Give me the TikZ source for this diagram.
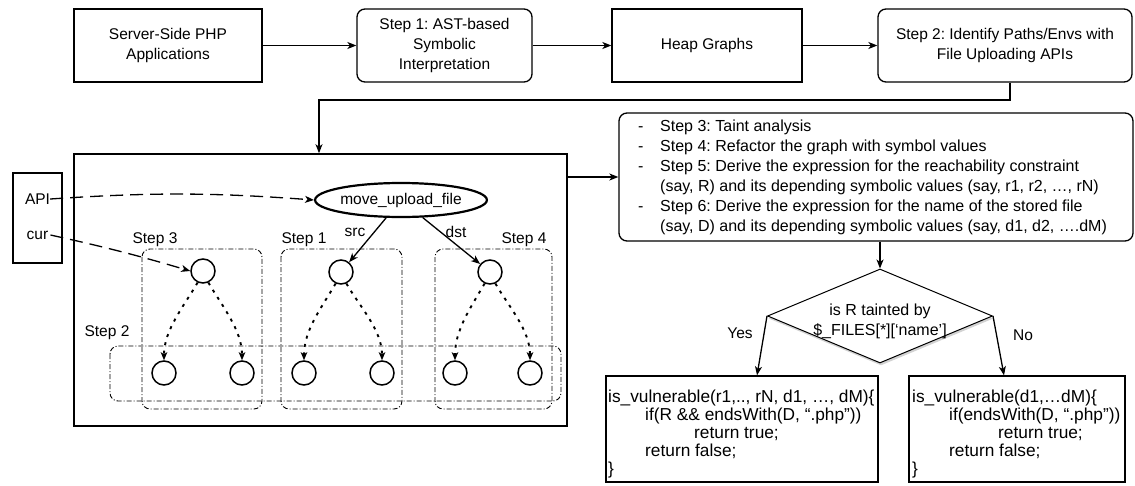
\documentclass[tikz,border=0pt]{standalone}
\usepackage{fontspec}
\setmainfont{Liberation Sans}
\usetikzlibrary{arrows.meta,shapes.geometric,shadows}
\begin{document}
\frenchspacing
\begin{tikzpicture}[x=1pt,y=-1pt,
  every node/.style={font=\fontsize{15.5}{20}\selectfont},
  big/.style={font=\fontsize{16}{20}\selectfont},
  code/.style={font=\fontsize{17.3}{17.8}\selectfont},
  box/.style={draw,line width=1.3pt,inner sep=0pt,align=center},
  rbox/.style={box,rounded corners=8pt},
  arr/.style={-{Stealth[length=9pt,width=7pt,inset=2.5pt]},line width=1.3pt},
  dashline/.style={line width=1.3pt,dash pattern=on 13pt off 7pt},
  dotarr/.style={-{Stealth[length=8pt,width=6.5pt,inset=2pt]},line width=1.9pt,dash pattern=on 3pt off 5.5pt},
  stepline/.style={line width=0.9pt,rounded corners=8pt,dash pattern=on 5pt off 2pt on 1pt off 2pt},
  circ/.style={circle,draw,line width=1.5pt,minimum size=24pt,inner sep=0pt},
  lbl/.style={inner sep=0pt}
]
\useasboundingbox (0,0) rectangle (1135,485);

% top row
\node[box,minimum width=188pt,minimum height=73pt] (app) at (168,45.5) {Server-Side PHP\\Applications};
\node[rbox,minimum width=175pt,minimum height=73pt] (s1) at (444.5,45.5) {Step 1: AST-based\\Symbolic\\Interpretation};
\node[box,minimum width=190pt,minimum height=73pt] (heap) at (707,45.5) {Heap Graphs};
\node[rbox,minimum width=254pt,minimum height=73pt] (s2) at (1005,45.5) {Step 2: Identify Paths/Envs with\\File Uploading APIs};
\draw[arr] (app) -- (s1);
\draw[arr] (s1) -- (heap);
\draw[arr] (heap) -- (s2);

% main box
\node[box,line width=1.6pt,minimum width=493pt,minimum height=272pt] (main) at (320.5,290) {};
\coordinate (turn) at (319,100);
\draw[arr] ([xshift=5pt]s2.south) |- (turn) -- (turn |- main.north);

% API box
\node[box,minimum width=49pt,minimum height=90pt] (apibox) at (37.5,218) {};
\node[lbl] (api) at (37.5,199) {API};
\node[lbl] (cur) at (37.5,235) {cur};

% step groups
\draw[stepline] (142,249) rectangle (262,409);
\draw[stepline] (281,249) rectangle (402,409);
\draw[stepline] (435,249) rectangle (552,409);
\draw[stepline] (110,346) rectangle (561,401);
\node[lbl] (l3) at (155,240) {Step 3};
\node[lbl] (l1) at (304,240) {Step 1};
\node[lbl] (l4) at (524,240) {Step 4};
\node[lbl] (l2) at (107,333) {Step 2};

% ellipse
\node[ellipse,draw,line width=2.2pt,minimum width=169pt,minimum height=34pt,inner sep=0pt] (upl) at (401,200) {move\_upload\_file};

% circles
\node[circ] (t3) at (203,271) {};
\node[circ] (t1) at (341,272) {};
\node[circ] (t4) at (490,272) {};
\node[circ] (b3a) at (164,373) {};
\node[circ] (b3b) at (242,373) {};
\node[circ] (b1a) at (304,373) {};
\node[circ] (b1b) at (382,373) {};
\node[circ] (b4a) at (455,373) {};
\node[circ] (b4b) at (530,373) {};

\draw[dashline,arr] (api.east) to[bend left=4] (upl.west);
\draw[dashline,arr] ([xshift=2pt]cur.east) to[bend left=2] (t3.west);
\draw[arr] (upl) -- (t1);
\draw[arr] (upl) -- (t4);
\node[lbl] (src) at (355,232) {src};
\node[lbl] (dst) at (456,232) {dst};

\foreach \t/\a/\b in {t3/b3a/b3b, t1/b1a/b1b, t4/b4a/b4b}{
  \draw[dotarr] (\t.245) .. controls +(-14,24) and +(0,-30) .. (\a.north);
  \draw[dotarr] (\t.295) .. controls +(14,24) and +(0,-30) .. (\b.north);
}

% info box
\node[rbox,minimum width=514pt,minimum height=128pt] (info) at (876,177) {};
\node[lbl,big,anchor=west,align=left] (infotext) at (638,177) {%
\makebox[22pt][l]{-}Step 3: Taint analysis\\
\makebox[22pt][l]{-}Step 4: Refactor the graph with symbol values\\
\makebox[22pt][l]{-}Step 5: Derive the expression for the reachability constraint\\
\hspace*{22pt}(say, R) and its depending symbolic values (say, r1, r2, …, rN)\\
\makebox[22pt][l]{-}Step 6: Derive the expression for the name of the stored file\\
\hspace*{22pt}(say, D) and its depending symbolic values (say, d1, d2, ….dM)};
\draw[arr] (main.east |- info.west) -- (info.west);

% decision
\node[diamond,draw,line width=1pt,minimum width=225pt,minimum height=94pt,inner sep=0pt,
  fill=white,drop shadow={shadow xshift=1pt,shadow yshift=-2.5pt,opacity=0.35}] (dec) at (880,316) {};
\node[lbl,big,align=center] (dect) at (880,321) {is R tainted by\\\$\_FILES[*][‘name’]};
\draw[arr] (info.south -| dec.north) -- (dec.north);

% code boxes
\node[box,minimum width=272pt,minimum height=106pt] (code1) at (742,429) {};
\node[box,minimum width=216pt,minimum height=106pt] (code2) at (1017,429) {};
\node[lbl,code,anchor=west,align=left] (code1t) at (608,434) {%
is\_vulnerable(r1,.., rN, d1, …, dM)\{\\
\hspace*{37pt}if(R \&\& endsWith(D, “.php”))\\
\hspace*{86pt}return true;\\
\hspace*{37pt}return false;\\
\}};
\node[lbl,code,anchor=west,align=left] (code2t) at (912,434) {%
is\_vulnerable(d1,…dM)\{\\
\hspace*{37pt}if(endsWith(D, “.php”))\\
\hspace*{86pt}return true;\\
\hspace*{37pt}return false;\\
\}};
\draw[arr] (dec.west) -- ([xshift=15pt]code1.north);
\draw[arr] (dec.east) -- ([xshift=-13pt]code2.north);
\node[lbl] (yes) at (740,333) {Yes};
\node[lbl] (no) at (1023,335) {No};
\end{tikzpicture}
\end{document}
